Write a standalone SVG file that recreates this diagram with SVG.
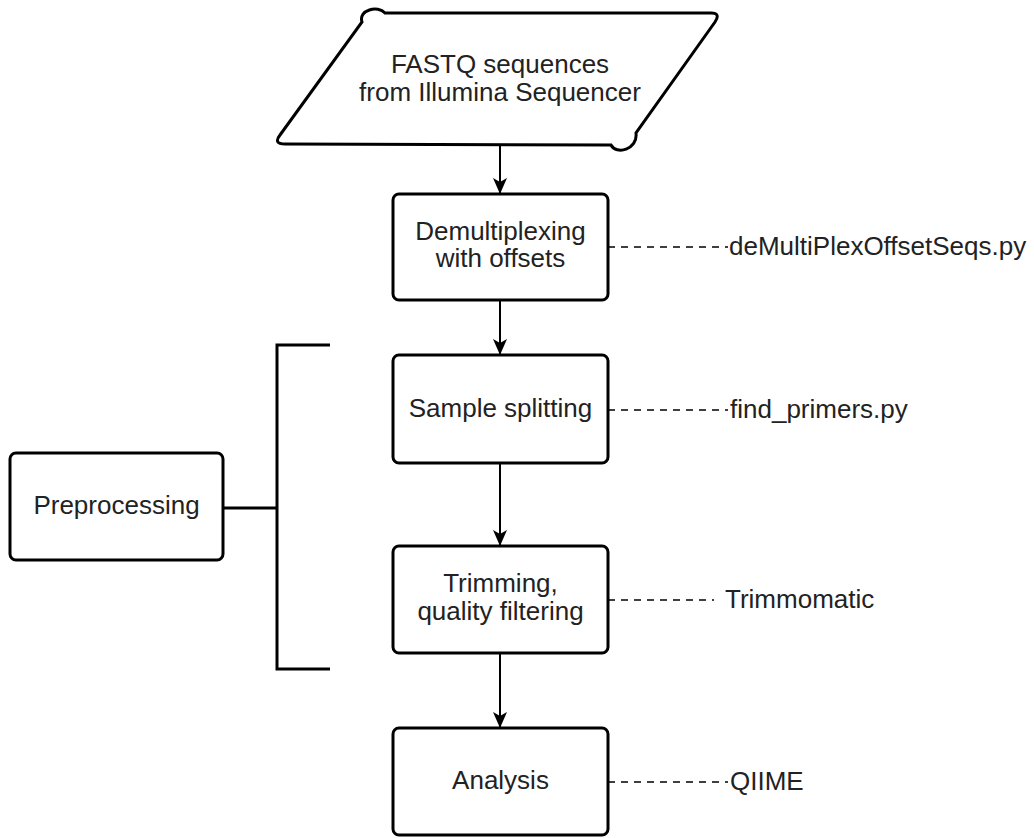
<svg xmlns="http://www.w3.org/2000/svg" width="1034" height="838" viewBox="0 0 1034 838">
<defs>
<marker id="arr" markerUnits="userSpaceOnUse" markerWidth="16" markerHeight="16" viewBox="0 0 16 16" refX="15" refY="8" orient="auto">
<path d="M0,1 L16,8 L0,15 L4,8 Z" fill="#000"/>
</marker>
</defs>
<style>
.box{fill:#fff;stroke:#000;stroke-width:3}
.t{font-family:"Liberation Sans",Arial,sans-serif;font-size:26px;fill:#222}
.c{text-anchor:middle}
.edge{stroke:#000;stroke-width:2;fill:none}
.dash{stroke:#000;stroke-width:1.6;stroke-dasharray:7 6;fill:none}
.br{stroke:#000;stroke-width:3;fill:none}
</style>
<rect width="1034" height="838" fill="#fff"/>
<g id="connectors">
<line class="edge" x1="500" y1="145" x2="500" y2="193" marker-end="url(#arr)"/>
<line class="edge" x1="500" y1="300" x2="500" y2="354" marker-end="url(#arr)"/>
<line class="edge" x1="500" y1="463" x2="500" y2="545" marker-end="url(#arr)"/>
<line class="edge" x1="500" y1="653" x2="500" y2="727" marker-end="url(#arr)"/>
<line class="dash" x1="608" y1="247" x2="728" y2="247"/>
<line class="dash" x1="608" y1="410" x2="728" y2="410"/>
<line class="dash" x1="608" y1="600" x2="714" y2="600"/>
<line class="dash" x1="608" y1="782" x2="728" y2="782"/>
<path class="br" d="M330,345 L277,345 L277,669 L330,669"/>
<line class="br" x1="223" y1="508" x2="277" y2="508"/>
</g>
<g id="fastq">
<path class="box" d="M385,13 L711,13 Q721,13 715,22 L636,133 C638,150 616,155 611,145 L285,144 Q273,144 280,135 L362,22 C358,10 378,5 385,13 Z"/>
<text class="t c" x="500" y="73">FASTQ sequences</text>
<text class="t c" x="500" y="101">from Illumina Sequencer</text>
</g>
<g id="demux">
<rect class="box" x="393" y="194" width="215" height="106" rx="6"/>
<text class="t c" x="500.5" y="240">Demultiplexing</text>
<text class="t c" x="500.5" y="267">with offsets</text>
</g>
<g id="split">
<rect class="box" x="393" y="355" width="215" height="108" rx="6"/>
<text class="t c" x="500.5" y="417">Sample splitting</text>
</g>
<g id="trim">
<rect class="box" x="393" y="546" width="215" height="107" rx="6"/>
<text class="t c" x="500.5" y="592">Trimming,</text>
<text class="t c" x="500.5" y="620">quality filtering</text>
</g>
<g id="analysis">
<rect class="box" x="393" y="728" width="215" height="107" rx="6"/>
<text class="t c" x="500.5" y="789">Analysis</text>
</g>
<g id="preproc">
<rect class="box" x="10" y="453" width="213" height="107" rx="6"/>
<text class="t c" x="116.5" y="514">Preprocessing</text>
</g>
<g id="labels">
<text class="t" x="729" y="255">deMultiPlexOffsetSeqs.py</text>
<text class="t" x="730" y="418">find_primers.py</text>
<text class="t" x="725" y="608">Trimmomatic</text>
<text class="t" x="730" y="790">QIIME</text>
</g>
</svg>
